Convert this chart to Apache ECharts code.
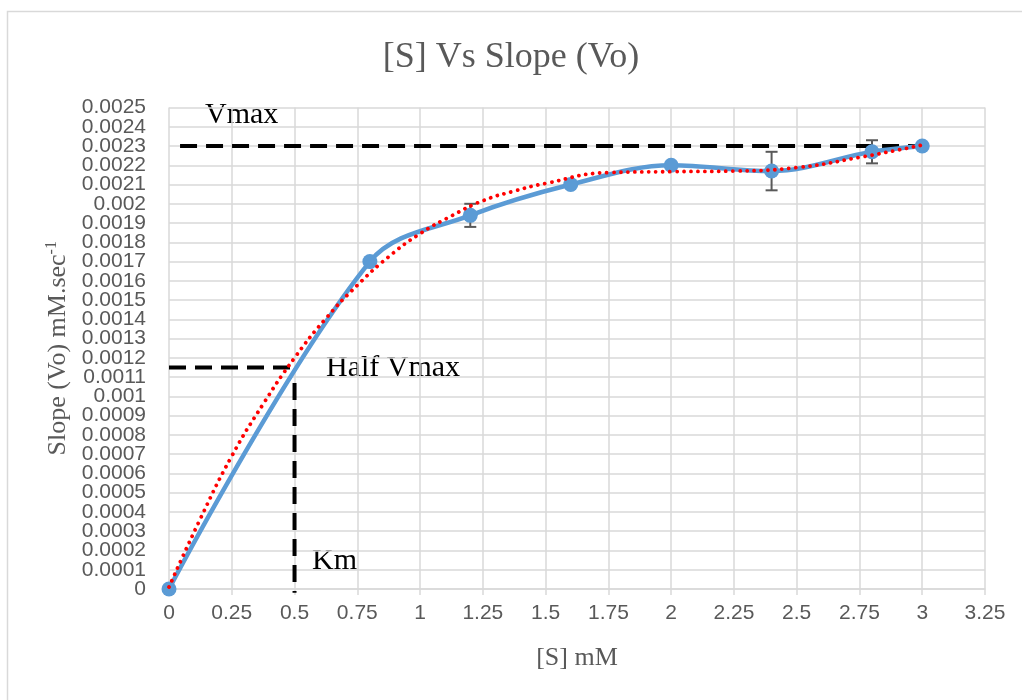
<!DOCTYPE html>
<html>
<head>
<meta charset="utf-8">
<script src="https://cdn.jsdelivr.net/npm/echarts@6/dist/echarts.min.js"></script>
<style>
	html, body { margin: 0; padding: 0; background: #fff; }
	#chart { width: 1022px; height: 700px; }
</style>
</head>
<body>
<div id="chart"></div>
<script>
// measured points, [S] in mM and slope in mM/sec
var substrate = [0, 0.8, 1.2, 1.6, 2, 2.4, 2.8, 3];
var slope = [0, 0.0017, 0.00194, 0.0021, 0.0022, 0.00217, 0.00227, 0.0023];

// error bars (only three points carry them)
var errX = [1.2, 2.4, 2.8];
var errLow = [0.00188, 0.00207, 0.00221];
var errHigh = [0.002, 0.00227, 0.00233];

// trendline
var trendX = [0, 0.125, 0.25, 0.375, 0.5, 0.625, 0.75, 0.875, 1, 1.125, 1.25, 1.375, 1.5, 1.75, 2, 2.25, 2.5, 2.75, 3];
var trendY = [0.00001, 0.000365, 0.00069, 0.00096, 0.0012, 0.001405, 0.001577, 0.001725, 0.001845, 0.001937, 0.002016, 0.002066, 0.002106, 0.002162, 0.002167, 0.00217, 0.002188, 0.002241, 0.002305];

// guide lines
var vmaxX = [0.044, 3];
var vmaxY = [0.0023, 0.0023];
var halfX = [0, 0.5];
var halfY = [0.00115, 0.00115];
var kmX = [0.5, 0.5];
var kmY = [0.00107, -0.00002];

var xTicks = { min: 0, max: 3.25, interval: 0.25 };
var yTicks = { min: 0, max: 0.0025, interval: 0.0001 };

function pairs(xs, ys) {
	return xs.map(function (x, i) {
		return [x, ys[i]];
	});
}

var grey = "#595959";
var serif = "'Liberation Serif', 'Times New Roman', serif";
var sans = "'Liberation Sans', Arial, sans-serif";

var chart = echarts.init(document.getElementById("chart"));

var dashed = {
	color: "#000",
	width: 4,
	type: [17, 9]
};

var yLabelStyle = {
	fontFamily: sans,
	fontSize: 21,
	color: grey,
	margin: 23
};

// echarts drops the labels next to min/max when they touch,
// so a second axis puts those two back
var secondLabels = [yTicks.min + yTicks.interval, yTicks.max - yTicks.interval];

function fmt(v) {
	return String(parseFloat(v.toFixed(4)));
}

var option = {
	animation: false,
	title: {
		text: "[S] Vs Slope (Vo)",
		left: "center",
		top: 35,
		textStyle: {
			fontFamily: serif,
			fontWeight: "normal",
			fontSize: 36,
			color: grey
		}
	},
	grid: {
		left: 169,
		right: 37,
		top: 107.5,
		bottom: 111
	},
	xAxis: {
		type: "value",
		min: xTicks.min,
		max: xTicks.max,
		interval: xTicks.interval,
		name: "[S] mM",
		nameLocation: "middle",
		nameGap: 56,
		nameTextStyle: {
			fontFamily: serif,
			fontSize: 26,
			color: grey
		},
		axisLine: { show: true, onZero: false, lineStyle: { color: "#d9d9d9", width: 1.5 } },
		axisTick: { show: true, length: 6, lineStyle: { color: "#d9d9d9", width: 1.5 } },
		axisLabel: {
			fontFamily: sans,
			fontSize: 21,
			color: grey,
			margin: 14,
			showMinLabel: true,
			showMaxLabel: true
		},
		splitLine: { show: true, lineStyle: { color: "#d9d9d9", width: 1.5 } }
	},
	yAxis: [
		{
			type: "value",
			min: yTicks.min,
			max: yTicks.max,
			interval: yTicks.interval,
			name: "{n|Slope (Vo) mM.sec}{s|-1}",
			nameLocation: "middle",
			nameGap: 94,
			nameRotate: 90,
			nameTextStyle: {
				rich: {
					n: { fontFamily: serif, fontSize: 26, color: grey },
					s: { fontFamily: serif, fontSize: 16, color: grey, verticalAlign: "top", padding: [0, 0, 12, 0] }
				}
			},
			axisLine: { show: false },
			axisTick: { show: false },
			axisLabel: Object.assign({
				showMinLabel: true,
				showMaxLabel: true,
				formatter: fmt
			}, yLabelStyle),
			splitLine: { show: true, lineStyle: { color: "#d9d9d9", width: 1.5 } }
		},
		{
			type: "value",
			position: "left",
			min: yTicks.min,
			max: yTicks.max,
			interval: yTicks.interval,
			axisLine: { show: false },
			axisTick: { show: false },
			splitLine: { show: false },
			axisLabel: Object.assign({
				showMinLabel: false,
				showMaxLabel: false,
				formatter: function (v) {
					var s = fmt(v);
					return secondLabels.some(function (t) { return fmt(t) === s; }) ? s : "";
				}
			}, yLabelStyle)
		}
	],
	graphic: [
		{
			type: "rect",
			shape: { x: 7.5, y: 11.5, width: 1040, height: 720 },
			style: { fill: null, stroke: "#d9d9d9", lineWidth: 1.5 },
			silent: true
		},
		{
			type: "text",
			left: 205,
			top: 100,
			style: { text: "Vmax", font: "30px " + serif, fill: "#000" }
		},
		{
			type: "text",
			left: 326,
			top: 353,
			style: { text: "Half Vmax", font: "30px " + serif, fill: "#000" }
		},
		{
			type: "text",
			left: 312,
			top: 546,
			style: { text: "Km", font: "30px " + serif, fill: "#000" }
		}
	],
	series: [
		{
			name: "vmax",
			type: "line",
			data: pairs(vmaxX, vmaxY),
			symbol: "none",
			lineStyle: dashed,
			z: 1,
			silent: true
		},
		{
			name: "half",
			type: "line",
			data: pairs(halfX, halfY),
			symbol: "none",
			lineStyle: dashed,
			z: 1,
			silent: true
		},
		{
			name: "km",
			type: "line",
			data: pairs(kmX, kmY),
			symbol: "none",
			clip: false,
			lineStyle: dashed,
			z: 1,
			silent: true
		},
		{
			name: "error",
			type: "custom",
			z: 2,
			data: errX.map(function (x, i) {
				return [x, errLow[i], errHigh[i]];
			}),
			renderItem: function (params, api) {
				var lo = api.coord([api.value(0), api.value(1)]);
				var hi = api.coord([api.value(0), api.value(2)]);
				var w = 6;
				var style = { stroke: grey, lineWidth: 2 };
				return {
					type: "group",
					children: [
						{ type: "line", shape: { x1: lo[0], y1: lo[1], x2: hi[0], y2: hi[1] }, style: style },
						{ type: "line", shape: { x1: lo[0] - w, y1: lo[1], x2: lo[0] + w, y2: lo[1] }, style: style },
						{ type: "line", shape: { x1: hi[0] - w, y1: hi[1], x2: hi[0] + w, y2: hi[1] }, style: style }
					]
				};
			}
		},
		{
			name: "Vo",
			type: "line",
			data: pairs(substrate, slope),
			smooth: 0.35,
			symbol: "circle",
			symbolSize: 15,
			itemStyle: { color: "#5b9bd5" },
			lineStyle: { color: "#5b9bd5", width: 4.5 },
			z: 3
		},
		{
			name: "trend",
			type: "line",
			data: pairs(trendX, trendY),
			smooth: true,
			symbol: "none",
			lineStyle: { color: "#ff0000", width: 3.8, type: [0.01, 7], cap: "round" },
			z: 4
		}
	]
};

chart.setOption(option);
</script>
</body>
</html>
